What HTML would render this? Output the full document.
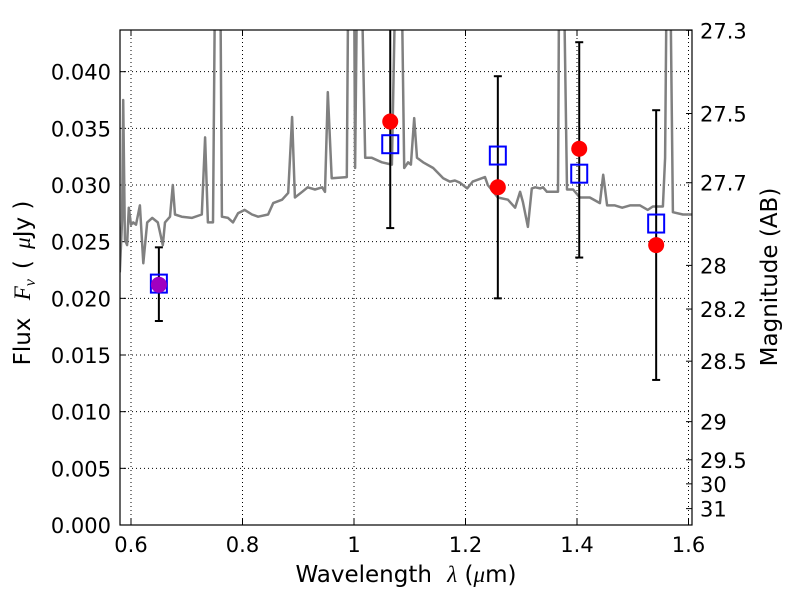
<!DOCTYPE html>
<html><head><meta charset="utf-8"><style>
body{margin:0;background:#fff}
svg{display:block;font-family:"DejaVu Sans","Liberation Sans",sans-serif}
</style></head><body>
<svg id="chart" width="800" height="600"></svg>
<script>
const specLam=[0.580,0.584,0.586,0.589,0.593,0.596,0.600,0.604,0.609,0.616,0.622,0.629,0.638,0.648,0.657,0.661,0.670,0.675,0.679,0.691,0.709,0.727,0.733,0.738,0.747,0.751,0.760,0.763,0.774,0.783,0.792,0.804,0.817,0.828,0.846,0.855,0.871,0.882,0.889,0.894,0.907,0.917,0.930,0.943,0.948,0.953,0.960,0.987,0.990,1.000,1.002,1.006,1.013,1.020,1.032,1.050,1.068,1.075,1.085,1.090,1.097,1.102,1.108,1.113,1.124,1.142,1.160,1.172,1.181,1.190,1.203,1.213,1.235,1.240,1.258,1.276,1.289,1.298,1.303,1.312,1.319,1.325,1.334,1.339,1.346,1.366,1.368,1.376,1.382,1.393,1.405,1.423,1.441,1.447,1.454,1.468,1.481,1.495,1.513,1.527,1.536,1.554,1.558,1.561,1.567,1.572,1.590,1.608];
const specFlux=[.0223,.0269,.0375,.0252,.0247,.0280,.0265,.0267,.0265,.0282,.0231,.0267,.0271,.0267,.0247,.0267,.0272,.0300,.0274,.0272,.0271,.0274,.0342,.0267,.0267,.050,.050,.0272,.0271,.0267,.0275,.0278,.0274,.0272,.0274,.0284,.0287,.0293,.0360,.0289,.0294,.0298,.0296,.0298,.0294,.0382,.0306,.0307,.050,.050,.0315,.050,.050,.0324,.0324,.0320,.0318,.050,.050,.0315,.0320,.0318,.0359,.0324,.0320,.0315,.0306,.0303,.0304,.0302,.0297,.0303,.0307,.0300,.0289,.0287,.0280,.0294,.0285,.0263,.0297,.0298,.0297,.0298,.0294,.0294,.050,.050,.0296,.0296,.0289,.0289,.0284,.0309,.0282,.0282,.0280,.0282,.0282,.0278,.0281,.0281,.0324,.050,.050,.0276,.0274,.0274];
const bandLam=[0.650,1.065,1.258,1.404,1.542];
const obsFlux=[0.0212,0.0356,0.0298,0.0332,0.0247];
const modelFlux=[0.0213,0.0336,0.0326,0.0310,0.0266];
const errLo=[0.0180,0.0262,0.0200,0.0236,0.0128];
const errHi=[0.0245,0.0500,0.0396,0.0426,0.0366];
const xTicks=[0.6,0.8,1.0,1.2,1.4,1.6];
const xTickLabels=["0.6","0.8","1","1.2","1.4","1.6"];
const yTicks=[0,0.005,0.010,0.015,0.020,0.025,0.030,0.035,0.040];
const yTickLabels=["0.000","0.005","0.010","0.015","0.020","0.025","0.030","0.035","0.040"];
const magTicks=[27.3,27.5,27.7,28,28.2,28.5,29,29.5,30,31];
const magTickLabels=["27.3","27.5","27.7","28","28.2","28.5","29","29.5","30","31"];

const L=120,R=692,T=30,B=525;
const X=v=>131+(v-0.6)*557.5;
const Y=v=>525-v*11333;
const svg=document.getElementById('chart');
const NS='http://www.w3.org/2000/svg';
function mk(tag,attrs,parent){const e=document.createElementNS(NS,tag);for(const k in attrs)e.setAttribute(k,attrs[k]);(parent||svg).appendChild(e);return e;}
const defs=mk('defs',{});const cp=mk('clipPath',{id:'pc'},defs);mk('rect',{x:L,y:T,width:R-L,height:B-T},cp);

xTicks.forEach((v,i)=>{const x=X(v);
 const g=mk('line',{x1:x,x2:x,y1:T,y2:B,stroke:'#000','stroke-width':1,'stroke-dasharray':'1,3'});
 
 mk('line',{x1:x,x2:x,y1:B,y2:B-6,stroke:'#000'});mk('line',{x1:x,x2:x,y1:T,y2:T+6,stroke:'#000'});
 const t=mk('text',{x:x,y:B+27,'font-size':21,'text-anchor':'middle'});t.textContent=xTickLabels[i];
 });
yTicks.forEach((v,i)=>{const y=Y(v);
 if(i>0){const g=mk('line',{x1:L,x2:R,y1:y,y2:y,stroke:'#000','stroke-width':1,'stroke-dasharray':'1,3'});
 }
 mk('line',{x1:L,x2:L+6,y1:y,y2:y,stroke:'#000'});
 const t=mk('text',{x:L-9,y:y+8,'font-size':21,'text-anchor':'end'});t.textContent=yTickLabels[i];
 });
magTicks.forEach((m,i)=>{const y=Y(Math.pow(10,(23.9-m)/2.5));
 mk('line',{x1:R,x2:R-6,y1:y,y2:y,stroke:'#000'});
 const t=mk('text',{x:R+8,y:y+8,'font-size':21});t.textContent=magTickLabels[i];
 });

const pg=mk('g',{'clip-path':'url(#pc)'});
const sp=mk('polyline',{points:specLam.map((l,i)=>X(l).toFixed(1)+','+Y(specFlux[i]).toFixed(1)).join(' '),fill:'none',stroke:'#808080','stroke-width':2.5,'stroke-linejoin':'round'},pg);

bandLam.forEach((l,i)=>{const x=X(l);
 const e=mk('g',{},pg);
 mk('line',{x1:x,x2:x,y1:Y(errLo[i]),y2:Y(errHi[i]),stroke:'#000','stroke-width':2},e);
 mk('line',{x1:x-4,x2:x+4,y1:Y(errLo[i]),y2:Y(errLo[i]),stroke:'#000','stroke-width':2},e);
 mk('line',{x1:x-4,x2:x+4,y1:Y(errHi[i]),y2:Y(errHi[i]),stroke:'#000','stroke-width':2},e);
 const s=mk('rect',{x:x-8,y:Y(modelFlux[i])-9,width:16,height:18,fill:'none',stroke:'#0000ff','stroke-width':2},pg);
 
 const c=mk('circle',{cx:x,cy:Y(obsFlux[i]),r:8,fill:i===0?'#a000c0':'#ff0000'},pg);
 });
mk('rect',{x:L,y:T,width:R-L,height:B-T,fill:'none',stroke:'#000','stroke-width':1.2});

const xl=mk('text',{x:406,y:582,'font-size':23,'text-anchor':'middle'});
xl.innerHTML='Wavelength <tspan font-style="italic" font-family="Liberation Serif, serif" dx="8">λ</tspan> (<tspan font-style="italic" font-family="Liberation Serif, serif">μ</tspan>m)';

const yl=mk('text',{x:0,y:0,'font-size':23,'text-anchor':'middle',transform:'translate(30,283) rotate(-90)'});
yl.innerHTML='Flux <tspan font-style="italic" font-family="Liberation Serif, serif" dx="10">F</tspan><tspan font-style="italic" font-size="16" dy="5" font-family="Liberation Serif, serif">ν</tspan><tspan dy="-5" dx="10">( </tspan><tspan font-style="italic" font-family="Liberation Serif, serif" dx="4">μ</tspan>Jy )';

const yr=mk('text',{x:0,y:0,'font-size':23,'text-anchor':'middle',transform:'translate(777,277) rotate(-90)'});
yr.textContent='Magnitude (AB)';

</script>
</body></html>
